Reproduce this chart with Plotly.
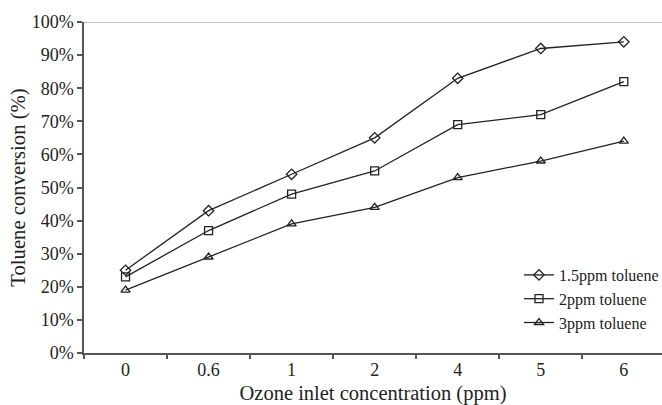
import plotly.graph_objects as go

categories = ["0", "0.6", "1", "2", "4", "5", "6"]
s15 = [0.25, 0.43, 0.54, 0.65, 0.83, 0.92, 0.94]
s2 = [0.23, 0.37, 0.48, 0.55, 0.69, 0.72, 0.82]
s3 = [0.19, 0.29, 0.39, 0.44, 0.53, 0.58, 0.64]
names = ["1.5ppm toluene", "2ppm toluene", "3ppm toluene"]
symbols = ["diamond-open", "square-open", "triangle-up-open"]

FONT = "Liberation Serif, Times New Roman, serif"
L, R, T, B = 84, 0, 22, 52
W, H = 662, 405
PW = W - L - R

fig = go.Figure()
for name, vals, sym in zip(names, [s15, s2, s3], symbols):
    fig.add_trace(go.Scatter(
        x=categories, y=vals, name=name, mode="lines+markers",
        line=dict(color="#222222", width=1.3),
        marker=dict(symbol=sym, size=8, color="#222222", line=dict(width=1.3, color="#222222")),
    ))

fig.add_shape(type="line", xref="paper", yref="y", x0=0, x1=1, y0=1, y1=1,
              line=dict(color="#aaaaaa", width=1.5), layer="below")

fig.update_layout(
    width=W, height=H,
    margin=dict(l=L, r=R, t=T, b=B, autoexpand=False),
    paper_bgcolor="white", plot_bgcolor="white",
    font=dict(family=FONT, color="#222222", size=18),
    showlegend=True,
    legend=dict(x=(519 - L) / PW, y=(H - B - 258) / (H - T - B), xanchor="left", yanchor="top",
                font=dict(family=FONT, size=16, color="#222222"),
                itemwidth=30, tracegroupgap=0, bgcolor="rgba(0,0,0,0)"),
    xaxis=dict(type="category", range=[-0.5, 6.46], tickson="boundaries",
               ticks="outside", ticklen=4, tickcolor="#555555", tickwidth=1.5,
               showline=True, linecolor="#555555", linewidth=1.5, showgrid=False,
               automargin=False,
               tickfont=dict(family=FONT, size=18),
               title=dict(text="Ozone inlet concentration (ppm)", font=dict(family=FONT, size=20.5), standoff=7)),
    yaxis=dict(range=[0, 1], dtick=0.1, tickformat=".0%",
               ticks="outside", ticklen=5, tickcolor="#555555", tickwidth=1.5,
               showline=True, linecolor="#555555", linewidth=1.5, showgrid=False,
               zeroline=False, automargin=False,
               tickfont=dict(family=FONT, size=18),
               title=dict(text="Toluene conversion (%)", font=dict(family=FONT, size=20.7), standoff=0)),
)

fig.write_html("out.html", config={"displayModeBar": False},
               post_script="document.body.style.margin='0';document.body.style.overflow='hidden';")
